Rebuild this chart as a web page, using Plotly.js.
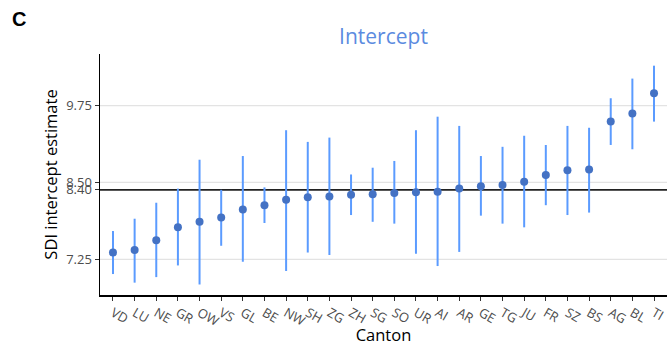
<!DOCTYPE html>
<html><head><meta charset="utf-8">
<script src="https://cdn.plot.ly/plotly-3.0.1.min.js"></script>
<style>html,body{margin:0;padding:0;background:#fff;}#chart{width:669px;height:346px;}</style>
</head><body><div id="chart"></div>
<script>
const cantons = ["VD","LU","NE","GR","OW","VS","GL","BE","NW","SH","ZG","ZH","SG","SO","UR","AI","AR","GE","TG","JU","FR","SZ","BS","AG","BL","TI"];
const estimate = [7.36,7.40,7.56,7.77,7.86,7.93,8.06,8.13,8.22,8.26,8.27,8.30,8.31,8.33,8.34,8.35,8.40,8.44,8.46,8.51,8.62,8.70,8.71,9.49,9.62,9.95];
const upper = [7.71,7.91,8.17,8.40,8.87,8.38,8.93,8.42,9.35,9.16,9.23,8.63,8.74,8.85,9.35,9.57,9.42,8.93,9.08,9.26,9.11,9.42,9.39,9.87,10.19,10.40];
const lower = [7.01,6.87,6.96,7.15,6.84,7.47,7.21,7.84,7.06,7.36,7.32,7.97,7.86,7.83,7.34,7.14,7.37,7.96,7.83,7.77,8.13,7.97,8.01,9.11,9.04,9.49];
const meanLine = 8.38;
const tickValues = [7.25, 8.38, 8.50, 9.75];
const tickLabels = ["7.25", "8.40", "8.50", "9.75"];

const font = "Open Sans, Noto Sans, sans-serif";
const trace = {
  x: cantons, y: estimate, type: "scatter", mode: "markers",
  marker: {color: "#4472c4", size: 8},
  error_y: {type: "data", symmetric: false,
    array: upper.map((u, i) => u - estimate[i]),
    arrayminus: lower.map((l, i) => estimate[i] - l),
    color: "#5b9bff", thickness: 2, width: 0},
  hoverinfo: "x+y"
};
const layout = {
  width: 669, height: 346,
  margin: {l: 100, r: 2, t: 54, b: 51},
  paper_bgcolor: "#fff", plot_bgcolor: "#fff",
  showlegend: false,
  title: {text: "Intercept", font: {family: font, size: 21, color: "#5b8be0"},
    x: 0.5, xref: "paper", y: 1 - 37/346, yref: "container", yanchor: "middle"},
  xaxis: {type: "category", range: [-0.6, 25.6], tickangle: 30,
    tickfont: {family: font, size: 13, color: "#4d4d4d"},
    showgrid: false, zeroline: false, showline: true, linecolor: "#000", linewidth: 1.5,
    ticks: "outside", ticklen: 4, tickcolor: "#333", tickwidth: 1,
    title: {text: "Canton", font: {family: font, size: 16.5, color: "#000"}, standoff: 4}},
  yaxis: {range: [6.669, 10.59], tickmode: "array", tickvals: tickValues, ticktext: tickLabels,
    tickfont: {family: font, size: 13, color: "#4d4d4d"},
    showgrid: false, zeroline: false, showline: true, linecolor: "#000", linewidth: 1.5,
    ticks: "outside", ticklen: 4, tickcolor: "#333", tickwidth: 1,
    title: {text: "SDI intercept estimate", font: {family: font, size: 16.5, color: "#000"}, standoff: 4}},
  shapes: [
    {type: "line", xref: "paper", x0: 0, x1: 1, yref: "y", y0: 7.25, y1: 7.25, line: {color: "#e3e3e3", width: 1.2}, layer: "below"},
    {type: "line", xref: "paper", x0: 0, x1: 1, yref: "y", y0: 8.50, y1: 8.50, line: {color: "#e3e3e3", width: 1.2}, layer: "below"},
    {type: "line", xref: "paper", x0: 0, x1: 1, yref: "y", y0: 9.75, y1: 9.75, line: {color: "#e3e3e3", width: 1.2}, layer: "below"},
    {type: "line", xref: "paper", x0: 0, x1: 1, yref: "y", y0: meanLine, y1: meanLine, line: {color: "#222", width: 1.6}, layer: "below"}
  ],
  annotations: [
    {text: "<b>C</b>", xref: "paper", yref: "paper", x: -90/567, y: (295-19)/241,
     xanchor: "left", yanchor: "middle", showarrow: false,
     font: {family: "Liberation Sans, Arial, sans-serif", size: 20, color: "#000"}}
  ]
};
Plotly.newPlot("chart", [trace], layout, {displayModeBar: false, staticPlot: true});
</script></body></html>
